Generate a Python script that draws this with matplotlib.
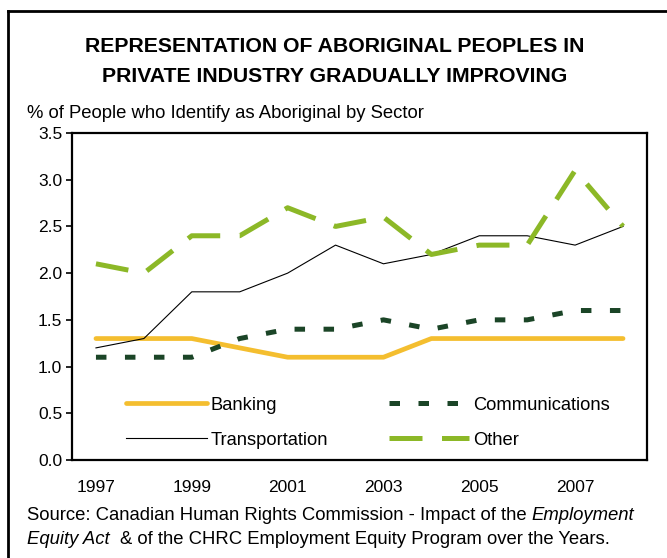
import matplotlib
matplotlib.use("Agg")
import matplotlib.pyplot as plt
from matplotlib.lines import Line2D

years = [1997, 1998, 1999, 2000, 2001, 2002, 2003, 2004, 2005, 2006, 2007, 2008]
banking = [1.3, 1.3, 1.3, 1.2, 1.1, 1.1, 1.1, 1.3, 1.3, 1.3, 1.3, 1.3]
communications = [1.1, 1.1, 1.1, 1.3, 1.4, 1.4, 1.5, 1.4, 1.5, 1.5, 1.6, 1.6]
transportation = [1.2, 1.3, 1.8, 1.8, 2.0, 2.3, 2.1, 2.2, 2.4, 2.4, 2.3, 2.5]
other = [2.1, 2.0, 2.4, 2.4, 2.7, 2.5, 2.6, 2.2, 2.3, 2.3, 3.1, 2.5]
xtick_years = [1997, 1999, 2001, 2003, 2005, 2007]
yticks = [0.0, 0.5, 1.0, 1.5, 2.0, 2.5, 3.0, 3.5]

FONT = "Liberation Sans"
plt.rcParams['font.family'] = [FONT, 'DejaVu Sans']

W, H = 667, 558
fig = plt.figure(figsize=(W / 100, H / 100), dpi=100)
ax = fig.add_axes([72 / W, 1 - 460 / H, (647 - 72) / W, (460 - 133) / H])

c_bank = "#F4BE2F"
c_comm = "#1B4527"
c_other = "#8CB827"

ax.plot(years, banking, color=c_bank, lw=3.4, solid_capstyle='round',
        solid_joinstyle='round', label="Banking")
ax.plot(years, communications, color=c_comm, lw=3.6, dashes=(2.1, 3.7),
        dash_capstyle='butt', label="Communications")
ax.plot(years, transportation, color="black", lw=0.8, label="Transportation")
ax.plot(years, other, color=c_other, lw=3.6, dashes=(6.6, 3.9),
        dash_capstyle='butt', label="Other")

ax.set_xlim(1996.5, 2008.5)
ax.set_ylim(0, 3.5)
ax.set_yticks(yticks)
ax.set_yticklabels([f"{v:.1f}" for v in yticks])
ax.set_xticks(xtick_years)
ax.set_xticklabels([str(y) for y in xtick_years])
ax.tick_params(axis='y', direction='out', length=4, width=1.2, labelsize=12.5, pad=3)
ax.tick_params(axis='x', length=0, labelsize=12.5, pad=14.5)
for s in ax.spines.values():
    s.set_linewidth(1.6)

handles, labels = ax.get_legend_handles_labels()
order = [0, 2, 1, 3]
leg = ax.legend([handles[i] for i in order], [labels[i] for i in order], ncol=2,
                loc='lower left', bbox_to_anchor=((126 - 72) / 575, 0.035),
                borderaxespad=0, borderpad=0, frameon=False,
                fontsize=13.2, handlelength=4.4, handletextpad=0.22,
                columnspacing=3.3, labelspacing=0.98)

fig.text(335 / W, 1 - 47 / H, "REPRESENTATION OF ABORIGINAL PEOPLES IN",
         ha='center', va='center', fontsize=15.3, fontweight='bold')
fig.text(335 / W, 1 - 76 / H, "PRIVATE INDUSTRY GRADUALLY IMPROVING",
         ha='center', va='center', fontsize=15.3, fontweight='bold')
fig.text(27 / W, 1 - 114 / H, "% of People who Identify as Aboriginal by Sector",
         ha='left', va='center', fontsize=13.3)

# Frame border (top and left)
fig.add_artist(Line2D([8 / W, 1.0], [1 - 11 / H, 1 - 11 / H], color='black', lw=2,
                      transform=fig.transFigure))
fig.add_artist(Line2D([8 / W, 8 / W], [1 - 11 / H, 0], color='black', lw=2,
                      transform=fig.transFigure))

# Source text with mixed italics
renderer = fig.canvas.get_renderer()
fs_src = 13.3

def text_width(s, style):
    t = fig.text(0, 0, s, fontsize=fs_src, style=style)
    w = t.get_window_extent(renderer).width
    t.remove()
    return w

space_w = text_width("a a", 'normal') - text_width("aa", 'normal')

def draw_line(pieces, x0, y):
    x = x0
    for s, style in pieces:
        stripped = s.strip()
        lead = len(s) - len(s.lstrip())
        trail = len(s) - len(s.rstrip())
        x += lead * space_w
        fig.text(x / W, 1 - y / H, stripped, fontsize=fs_src, style=style,
                 ha='left', va='center')
        x += text_width(stripped, style) + trail * space_w

draw_line([("Source: Canadian Human Rights Commission - Impact of the ", 'normal'),
           ("Employment", 'italic')], 27, 516)
draw_line([("Equity Act", 'italic'),
           ("  & of the CHRC Employment Equity Program over the Years.", 'normal')],
          27, 540)

fig.savefig("out.png", dpi=100)
